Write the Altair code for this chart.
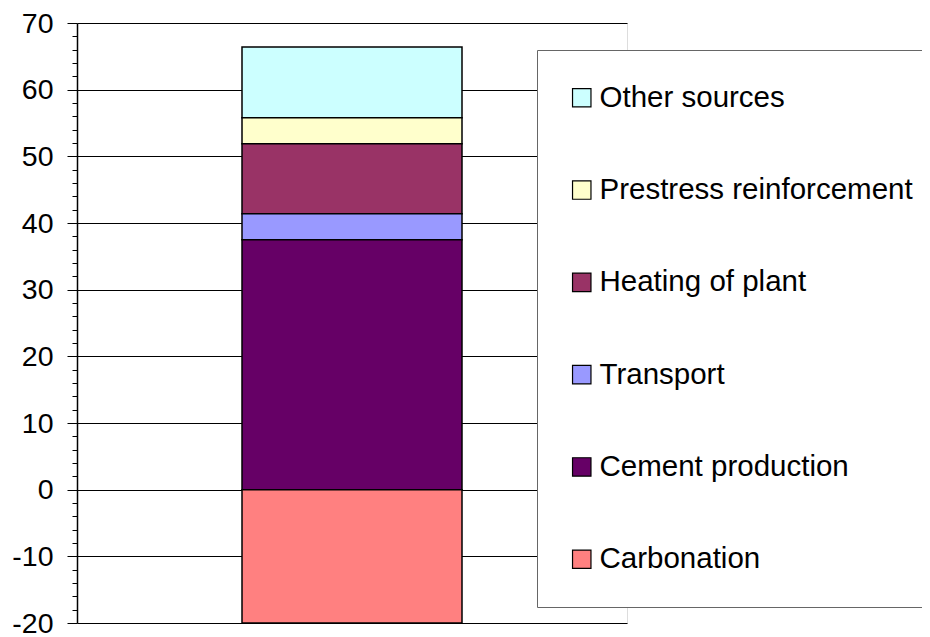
import altair as alt
import pandas as pd

categories = ["Other sources", "Prestress reinforcement", "Heating of plant",
              "Transport", "Cement production", "Carbonation"]
values = [10.6, 3.9, 10.5, 3.9, 37.5, -20.0]
stack_order = [5, 4, 3, 2, 1, 0]
colors = ["#CCFFFF", "#FFFFCC", "#993366", "#9999FF", "#660066", "#FF8080"]
y_ticks = list(range(-20, 71, 2))

df = pd.DataFrame({
    "group": ["A"] * len(categories),
    "source": categories,
    "value": values,
    "order": stack_order,
})

is_major = "datum.value % 10 === 0"

chart = alt.Chart(df).mark_bar(size=220, stroke="black", strokeWidth=1.5).encode(
    x=alt.X("group:N", axis=None),
    y=alt.Y(
        "value:Q",
        stack="zero",
        scale=alt.Scale(domain=[-20, 70], nice=False, zero=False),
        axis=alt.Axis(
            values=y_ticks,
            title=None,
            grid=True,
            gridColor="black",
            gridWidth=1,
            gridOpacity={"condition": {"test": is_major, "value": 1}, "value": 0},
            tickColor="black",
            tickWidth=1,
            tickSize={"condition": {"test": is_major, "value": 10}, "value": 5},
            domainColor="black",
            domainWidth=1.5,
            labelExpr="datum.value % 10 === 0 ? ('' + datum.value) : ''",
            labelFont="Liberation Sans",
            labelFontSize=28.5,
            labelColor="black",
            labelPadding=14,
        ),
    ),
    color=alt.Color(
        "source:N",
        scale=alt.Scale(domain=categories, range=colors),
        legend=alt.Legend(
            title=None,
            orient="none",
            legendX=460,
            legendY=27,
            direction="vertical",
            fillColor="white",
            strokeColor="#666666",
            padding=33,
            rowPadding=61.3,
            symbolType="square",
            symbolSize=340,
            symbolOffset=-3,
            symbolStrokeColor="black",
            symbolStrokeWidth=1.2,
            symbolOpacity=1,
            labelFont="Liberation Sans",
            labelFontSize=29.5,
            labelColor="black",
            labelOffset=3,
            labelLimit=0,
        ),
    ),
    order=alt.Order("order:Q", sort="ascending"),
).properties(
    width=550,
    height=600,
    autosize=alt.AutoSizeParams(type="none"),
    padding={"left": 69, "top": 15, "right": 295, "bottom": 14},
).configure_view(
    stroke="black",
    strokeWidth=1,
).configure(
    background="white",
)

chart.save("out.html", embed_options={"renderer": "svg", "actions": False})
